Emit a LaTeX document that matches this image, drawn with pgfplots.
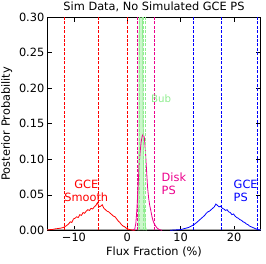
\documentclass[border=0pt]{standalone}
\usepackage{pgfplots}
\pgfplotsset{compat=1.18}
\usepackage{fontspec}
\setmainfont{DejaVu Sans}[Scale=1.14]
\definecolor{lgreen}{rgb}{0.56,0.93,0.56}
\begin{document}
\begin{tikzpicture}
\begin{axis}[name=ax,
  scale only axis, width=213.4bp, height=213bp,
  xmin=-15, xmax=25, ymin=0, ymax=0.30,
  xtick={-10,0,10,20}, xticklabels={−10,0,10,20},
  ytick={0,0.05,0.10,0.15,0.20,0.25,0.30},
  yticklabel style={xshift=1pt,/pgf/number format/.cd,fixed,fixed zerofill,precision=2,assume math mode=true},
  scaled y ticks=false,
  tick align=inside, ticks=major, major tick length=4.5pt,
  xtick pos=both, ytick pos=both,
  title={Sim Data, No Simulated GCE PS}, title style={yshift=-5pt},
  xlabel={Flux Fraction (\%)}, ylabel={Posterior Probability},
  xlabel style={yshift=3pt}, ylabel style={yshift=-1pt},
  xticklabel style={yshift=1pt},
  clip=true, axis line style={line width=0.6pt}, tick style={line width=0.6pt, black},
]
% gray baseline
\addplot[gray!70, line width=1.3pt] coordinates {(-15,0.0008) (25,0.0008)};
% green (Bub)
\addplot[lgreen, line width=0.8pt, fill=lgreen, fill opacity=0.45] coordinates {
(2.0,0) (2.15,0.04) (2.25,0.4) (2.4,0.8) (2.6,0.9) (2.75,0.6) (2.85,0.3) (3.0,0.1) (3.2,0.03) (3.4,0.005) (3.6,0)};
% red GCE smooth
\addplot[red, line width=0.8pt] coordinates {
(-15,0.0005) (-14.5,0.001) (-14,0.0012) (-13.5,0.002) (-13,0.0025) (-12.5,0.003) (-12,0.004) (-11.5,0.006) (-11,0.009) (-10.7,0.012) (-10.4,0.011) (-10.1,0.016) (-9.8,0.017) (-9.5,0.019) (-9.2,0.018) (-8.9,0.022) (-8.6,0.021) (-8.3,0.025) (-8.0,0.024) (-7.7,0.027) (-7.4,0.029) (-7.1,0.028) (-6.8,0.031) (-6.5,0.030) (-6.2,0.033) (-5.9,0.035) (-5.6,0.039) (-5.3,0.033) (-5.0,0.034) (-4.7,0.036) (-4.4,0.031) (-4.1,0.029) (-3.8,0.027) (-3.5,0.026) (-3.2,0.024) (-2.9,0.022) (-2.6,0.020) (-2.3,0.019) (-2.0,0.016) (-1.7,0.013) (-1.4,0.011) (-1.1,0.008) (-0.8,0.006) (-0.5,0.005) (-0.2,0.003) (0.2,0.0015) (0.6,0.0008) (1.0,0.0003) (1.5,0)};
% magenta Disk PS
\addplot[magenta, line width=0.8pt] coordinates {
(1.0,0) (1.4,0.002) (1.6,0.01) (1.8,0.03) (2.0,0.06) (2.2,0.09) (2.4,0.11) (2.6,0.125) (2.8,0.133) (3.0,0.136) (3.2,0.13) (3.4,0.11) (3.6,0.085) (3.8,0.06) (4.0,0.045) (4.2,0.035) (4.4,0.028) (4.6,0.02) (4.8,0.014) (5.0,0.01) (5.3,0.006) (5.6,0.003) (6.0,0.001) (6.5,0)};
% blue GCE PS
\addplot[blue, line width=0.8pt] coordinates {
(8,0) (9,0.0005) (10,0.001) (10.5,0.002) (11,0.003) (11.5,0.004) (12,0.006) (12.5,0.008) (13,0.011) (13.3,0.013) (13.6,0.015) (13.9,0.017) (14.2,0.019) (14.5,0.021) (14.8,0.024) (15.1,0.026) (15.4,0.027) (15.7,0.029) (16.0,0.031) (16.3,0.033) (16.6,0.037) (16.9,0.035) (17.2,0.033) (17.5,0.034) (17.8,0.031) (18.1,0.030) (18.4,0.028) (18.7,0.029) (19.0,0.026) (19.3,0.025) (19.6,0.022) (19.9,0.023) (20.2,0.020) (20.5,0.018) (20.8,0.017) (21.1,0.015) (21.4,0.014) (21.7,0.012) (22.0,0.011) (22.3,0.009) (22.6,0.008) (22.9,0.006) (23.2,0.005) (23.5,0.004) (23.8,0.003) (24.1,0.002) (24.5,0.001) (25,0.0005)};
% dashed quantile lines
\addplot[red, dash pattern=on 3pt off 1.5pt, line width=0.8pt] coordinates {(-11.8,0) (-11.8,0.3)};
\addplot[red, dash pattern=on 3pt off 1.5pt, line width=0.8pt] coordinates {(-5.45,0) (-5.45,0.3)};
\addplot[red, dash pattern=on 3pt off 1.5pt, line width=0.8pt] coordinates {(-0.06,0) (-0.06,0.3)};
\addplot[magenta, dash pattern=on 3pt off 1.5pt, line width=0.8pt] coordinates {(1.9,0) (1.9,0.3)};
\addplot[magenta, dash pattern=on 3pt off 1.5pt, line width=0.8pt] coordinates {(2.95,0) (2.95,0.3)};
\addplot[magenta, dash pattern=on 3pt off 1.5pt, line width=0.8pt] coordinates {(5.0,0) (5.0,0.3)};
\addplot[lgreen, dash pattern=on 3pt off 1.5pt, line width=0.8pt] coordinates {(2.25,0) (2.25,0.3)};
\addplot[lgreen, dash pattern=on 3pt off 1.5pt, line width=0.8pt] coordinates {(2.95,0) (2.95,0.3)};
\addplot[lgreen, dash pattern=on 3pt off 1.5pt, line width=0.8pt] coordinates {(3.4,0) (3.4,0.3)};
\addplot[blue, dash pattern=on 3pt off 1.5pt, line width=0.8pt] coordinates {(12.3,0) (12.3,0.3)};
\addplot[blue, dash pattern=on 3pt off 1.5pt, line width=0.8pt] coordinates {(17.7,0) (17.7,0.3)};
\addplot[blue, dash pattern=on 3pt off 1.5pt, line width=0.8pt] coordinates {(24.3,0) (24.3,0.3)};
% labels
\node[red, align=center] at (axis cs:-7.7,0.055) {GCE\\[1pt]Smooth};
\node[magenta, align=left, anchor=west] at (axis cs:5.7,0.065) {Disk\\[1pt]PS};
\node[blue, align=left, anchor=west] at (axis cs:19.2,0.055) {GCE\\[1pt]PS};
\node[lgreen, anchor=west, font=\small] at (axis cs:3.7,0.185) {Bub};
\end{axis}
\pgfresetboundingbox
\path[use as bounding box] ([shift={(-47.3bp,-33.7bp)}]ax.south west) rectangle ([shift={(5.3bp,17.3bp)}]ax.north east);
\end{tikzpicture}
\end{document}
